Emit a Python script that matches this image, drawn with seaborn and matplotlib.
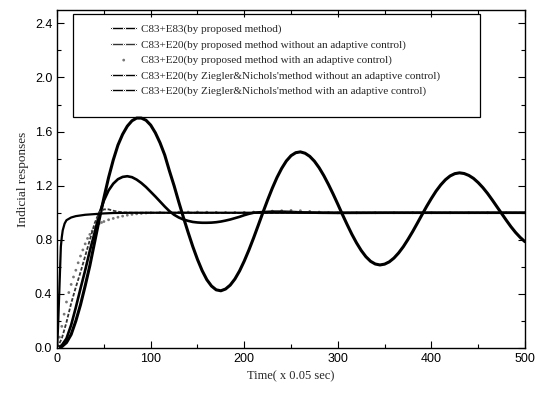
import matplotlib
matplotlib.use("Agg")
import matplotlib.pyplot as plt
import seaborn as sns
from matplotlib.patches import Rectangle
from matplotlib.ticker import MultipleLocator, FormatStrFormatter

# values
t_fast = [0, 1, 2, 3, 4, 5, 6, 8, 10, 15, 20, 30, 40, 50, 60, 80, 100,
          150, 200, 250, 300, 350, 400, 450, 500]
y_fast = [0, 0.15, 0.35, 0.55, 0.75, 0.82, 0.87, 0.92, 0.945, 0.965, 0.975,
          0.985, 0.99, 0.995, 0.998, 1.0, 1.0, 1.0, 1.0, 1.0, 1.0, 1.0, 1.0,
          1.0, 1.0]

t_prop = [0, 5, 10, 15, 20, 25, 30, 35, 40, 45, 50, 55, 60, 65, 70, 80, 100,
          150, 200, 250, 300, 350, 400, 450, 500]
y_prop = [0, 0.07, 0.19, 0.33, 0.45, 0.56, 0.68, 0.80, 0.92, 1.005, 1.025,
          1.025, 1.015, 1.008, 1.003, 1.0, 1.0, 1.0, 0.998, 1.002, 1.0, 1.0,
          1.0, 1.0, 1.0]

t_prop_ad = [0, 2.5, 5, 7.5, 10, 12.5, 15, 17.5, 20, 22.5, 25, 27.5, 30, 32.5,
             35, 37.5, 40, 42.5, 45, 47.5, 50, 55, 60, 65, 70, 75, 80,
             85, 90, 95, 100, 110, 120, 130, 140, 150, 160, 170, 180, 190, 200,
             210, 220, 230, 240, 250, 260, 270, 280, 290, 300, 320, 340, 360,
             380, 400, 420, 440, 460, 480, 500]
y_prop_ad = [0, 0.08, 0.16, 0.25, 0.34, 0.41, 0.47, 0.525, 0.575, 0.63, 0.68,
             0.725, 0.77, 0.81, 0.84, 0.865, 0.89, 0.905, 0.92, 0.928, 0.935,
             0.948, 0.958, 0.967, 0.975, 0.982, 0.988, 0.992, 0.995, 0.998,
             1.0, 1.002, 1.003, 1.004, 1.005, 1.005, 1.004, 1.003, 1.002,
             1.002, 1.003, 1.005, 1.008, 1.012, 1.015, 1.017, 1.015, 1.01,
             1.005, 1.002, 1.0, 1.0, 1.0, 1.0, 1.0, 1.0, 1.0, 1.0, 1.0, 1.0,
             1.0]

t_zn = list(range(0, 505, 5))
y_zn = [0, 0.01, 0.04, 0.10, 0.20, 0.32, 0.46, 0.61, 0.78, 0.95,
        1.11, 1.26, 1.39, 1.50, 1.58, 1.64, 1.68, 1.70, 1.70, 1.684,
        1.648, 1.591, 1.517, 1.427, 1.31, 1.20, 1.08, 0.965, 0.855, 0.75,
        0.655, 0.572, 0.505, 0.458, 0.430, 0.423, 0.436, 0.465, 0.510, 0.570,
        0.643, 0.725, 0.814, 0.908, 1.003, 1.095, 1.182, 1.261, 1.328, 1.383,
        1.422, 1.444, 1.450, 1.440, 1.417, 1.381, 1.333, 1.275, 1.209, 1.138,
        1.063, 0.986, 0.912, 0.841, 0.777, 0.721, 0.675, 0.641, 0.621, 0.614,
        0.620, 0.637, 0.665, 0.703, 0.749, 0.803, 0.861, 0.923, 0.986, 1.048,
        1.106, 1.160, 1.206, 1.244, 1.272, 1.289, 1.295, 1.290, 1.276, 1.254,
        1.223, 1.186, 1.143, 1.095, 1.045, 0.995, 0.945, 0.897, 0.854, 0.817,
        0.786]

t_zn_ad = [0, 5, 10, 15, 20, 25, 30, 35, 40, 45, 50, 55, 60, 65, 70, 75, 80,
           85, 90, 95, 100, 105, 110, 115, 120, 125, 130, 135, 140, 145, 150,
           155, 160, 165, 170, 175, 180, 185, 190, 195, 200, 205, 210, 220,
           230, 240, 250, 260, 280, 300, 350, 400, 450, 500]
y_zn_ad = [0, 0.02, 0.07, 0.17, 0.30, 0.44, 0.575, 0.72, 0.85, 0.99, 1.09,
           1.165, 1.215, 1.248, 1.265, 1.27, 1.263, 1.245, 1.22, 1.19, 1.155,
           1.12, 1.083, 1.046, 1.012, 0.985, 0.965, 0.95, 0.94, 0.932, 0.928,
           0.926, 0.926, 0.927, 0.93, 0.935, 0.942, 0.95, 0.96, 0.97, 0.982,
           0.992, 1.0, 1.005, 1.008, 1.008, 1.006, 1.003, 1.0, 0.999, 1.0,
           1.0, 1.0, 1.0]

labels = [
    "C83+E83(by proposed method)",
    "C83+E20(by proposed method without an adaptive control)",
    "C83+E20(by proposed method with an adaptive control)",
    "C83+E20(by Ziegler&Nichols'method without an adaptive control)",
    "C83+E20(by Ziegler&Nichols'method with an adaptive control)",
]

sns.set_style("ticks")
plt.rcParams['font.family'] = ['Liberation Sans', 'DejaVu Sans']

fig = plt.figure(figsize=(5.44, 3.95), dpi=100)
ax = fig.add_axes([0.105, 0.119, 0.86, 0.856])

sns.lineplot(x=t_zn, y=y_zn, ax=ax, color="black", lw=2.2,
             marker=".", markersize=3, markevery=1000, label=labels[3])
sns.lineplot(x=t_zn_ad, y=y_zn_ad, ax=ax, color="black", lw=1.9,
             marker=".", markersize=3, markevery=1000, label=labels[4])
sns.lineplot(x=t_prop, y=y_prop, ax=ax, color="#333333", lw=1.3,
             linestyle=(0, (2, 1)), marker=".", markersize=3,
             markevery=1000, label=labels[1])
sns.scatterplot(x=t_prop_ad, y=y_prop_ad, ax=ax, color="#777777", s=4,
                edgecolor="none", label=labels[2])
sns.lineplot(x=t_fast, y=y_fast, ax=ax, color="black", lw=1.6,
             marker=".", markersize=3, markevery=1000, label=labels[0])

handles, labs = ax.get_legend_handles_labels()
order = [labs.index(l) for l in labels]
leg = ax.legend([handles[i] for i in order], [labs[i] for i in order],
                loc="upper left", bbox_to_anchor=(0.115, 0.958),
                frameon=False, borderpad=0, borderaxespad=0,
                handlelength=2.3, handletextpad=0.4, labelspacing=0.5,
                prop={"family": "Liberation Serif", "size": 8})
for h in leg.legend_handles:
    if hasattr(h, "set_markevery"):
        h.set_markevery(None)
        h.set_linewidth(1.0)
        h.set_linestyle("-")

ax.add_patch(Rectangle((0.034, 0.683), 0.87, 0.305, transform=ax.transAxes,
                       fill=False, edgecolor="black", lw=0.9, zorder=5))

ax.set_xlim(0, 500)
ax.set_ylim(0, 2.5)
ax.xaxis.set_major_locator(MultipleLocator(100))
ax.xaxis.set_minor_locator(MultipleLocator(50))
ax.yaxis.set_major_locator(MultipleLocator(0.4))
ax.yaxis.set_minor_locator(MultipleLocator(0.2))
ax.yaxis.set_major_formatter(FormatStrFormatter("%.1f"))
ax.tick_params(which="both", direction="in", top=True, right=True,
               width=0.8, colors="black", labelsize=9)
ax.tick_params(which="major", length=5)
ax.tick_params(which="minor", length=3)
for s in ax.spines.values():
    s.set_color("black")
    s.set_linewidth(1.0)

ax.set_xlabel("Time( x 0.05 sec)", family="Liberation Serif", fontsize=9)
ax.set_ylabel("Indicial responses", family="Liberation Serif", fontsize=9.5)

fig.savefig("out.png", dpi=100)
